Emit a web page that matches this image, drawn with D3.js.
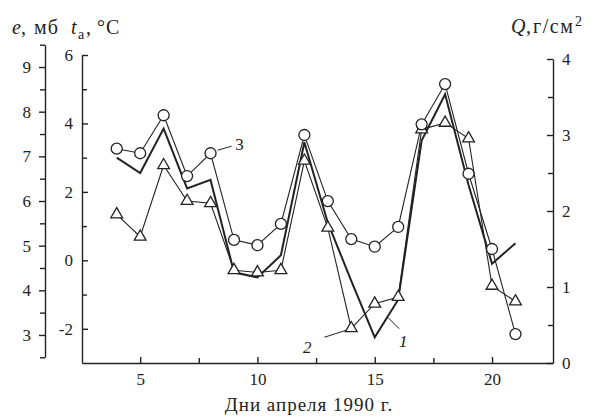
<!DOCTYPE html>
<html>
<head>
<meta charset="utf-8">
<script src="https://cdn.jsdelivr.net/npm/d3@7/dist/d3.min.js"></script>
<style>
  html, body { margin: 0; padding: 0; background: #fff; }
  svg { display: block; }
</style>
</head>
<body>
<svg id="chart" width="595" height="420"></svg>
<script>
// Days of April 1990
const days = [4, 5, 6, 7, 8, 9, 10, 11, 12, 13, 14, 15, 16, 17, 18, 19, 20, 21];
// 1 — air temperature t_a, °C
const airTemp = [3.0, 2.55, 3.85, 2.1, 2.35, -0.35, -0.5, 0.15, 3.45, 1.1, -0.6, -2.25, -1.15, 3.5, 4.85, 2.2, -0.1, 0.5];
// 2 — vapour pressure e, mb
const vapour = [5.7, 5.2, 6.8, 6.0, 5.95, 4.45, 4.4, 4.45, 6.9, 5.4, 3.15, 3.7, 3.85, 7.6, 7.75, 7.4, 4.1, 3.75];
// 3 — Q, g/cm²
const qValues = [2.82, 2.76, 3.26, 2.46, 2.76, 1.62, 1.55, 1.83, 3.0, 2.13, 1.63, 1.53, 1.79, 3.14, 3.67, 2.49, 1.5, 0.38];

const dayTicks = [5, 10, 15, 20];
const dayMinor = [7.5, 12.5, 17.5];
const tTicks = [-2, 0, 2, 4, 6];
const tMinor = [-1, 1, 3, 5];
const eTicks = [3, 4, 5, 6, 7, 8, 9];
const eMinor = [2.5, 3.5, 4.5, 5.5, 6.5, 7.5, 8.5, 9.5];
const qTicks = [0, 1, 2, 3, 4];
const qMinor = [0.5, 1.5, 2.5, 3.5];

const ink = "#222";
const serif = '"Liberation Serif"';
const svg = d3.select("#chart");

const x = d3.scaleLinear().domain([2.52, 22.6]).range([82, 553]);
const yT = d3.scaleLinear().domain([-3, 6]).range([363, 55]);
const yE = d3.scaleLinear().domain([2.5, 9.5]).range([357.3, 44.7]);
const yQ = d3.scaleLinear().domain([0, 4]).range([363, 59]);

function styleAxis(g, size) {
  g.attr("font-family", serif).attr("font-size", size);
  g.selectAll("path, line").attr("stroke", ink).attr("stroke-width", 1.4);
  g.selectAll("text").attr("fill", ink).attr("font-family", serif).attr("font-size", size);
}

// Bottom axis (days)
svg.append("g").attr("transform", "translate(0,363)")
  .call(d3.axisBottom(x).tickValues(dayTicks).tickSizeInner(-6).tickSizeOuter(0).tickPadding(10).tickFormat(d3.format("d")))
  .call(g => styleAxis(g, 17));
svg.append("g").attr("transform", "translate(0,363)")
  .call(d3.axisBottom(x).tickValues(dayMinor).tickSizeInner(-5).tickSizeOuter(0).tickFormat(""))
  .call(g => { styleAxis(g, 17); g.select(".domain").remove(); });

// Air temperature axis, ticks inward
svg.append("g").attr("transform", "translate(82,0)")
  .call(d3.axisLeft(yT).tickValues(tTicks).tickSizeInner(-6).tickSizeOuter(0).tickPadding(9).tickFormat(d => String(d)))
  .call(g => styleAxis(g, 17));
svg.append("g").attr("transform", "translate(82,0)")
  .call(d3.axisLeft(yT).tickValues(tMinor).tickSizeInner(-5).tickSizeOuter(0).tickFormat(""))
  .call(g => { styleAxis(g, 17); g.select(".domain").remove(); });

// Vapour pressure axis, outer
svg.append("g").attr("transform", "translate(45,0)")
  .call(d3.axisLeft(yE).tickValues(eTicks).tickSizeInner(6).tickSizeOuter(0).tickPadding(8).tickFormat(d3.format("d")))
  .call(g => styleAxis(g, 17));
svg.append("g").attr("transform", "translate(45,0)")
  .call(d3.axisLeft(yE).tickValues(eMinor).tickSizeInner(5).tickSizeOuter(0).tickFormat(""))
  .call(g => { styleAxis(g, 17); g.select(".domain").remove(); });

// Q axis on the right, ticks inward
svg.append("g").attr("transform", "translate(553,0)")
  .call(d3.axisRight(yQ).tickValues(qTicks).tickSizeInner(-6).tickSizeOuter(0).tickPadding(9).tickFormat(d3.format("d")))
  .call(g => styleAxis(g, 17));
svg.append("g").attr("transform", "translate(553,0)")
  .call(d3.axisRight(yQ).tickValues(qMinor).tickSizeInner(-5).tickSizeOuter(0).tickFormat(""))
  .call(g => { styleAxis(g, 17); g.select(".domain").remove(); });

// Axis titles
const eTitle = svg.append("text").attr("y", 34).attr("font-family", serif).attr("font-size", 20).attr("fill", ink);
eTitle.append("tspan").attr("x", 12).attr("font-style", "italic").text("e");
eTitle.append("tspan").attr("x", 21).text(",");
eTitle.append("tspan").attr("x", 34).attr("letter-spacing", 1).text("мб");

const tTitle = svg.append("text").attr("y", 34).attr("font-family", serif).attr("font-size", 20).attr("fill", ink);
tTitle.append("tspan").attr("x", 71).attr("font-style", "italic").text("t");
tTitle.append("tspan").attr("x", 78).attr("dy", 5).attr("font-size", 14).text("a");
tTitle.append("tspan").attr("x", 86).attr("dy", -5).text(",");
tTitle.append("tspan").attr("x", 97).attr("letter-spacing", 1).text("°C");

const qTitle = svg.append("text").attr("y", 33).attr("font-family", serif).attr("font-size", 20).attr("fill", ink);
qTitle.append("tspan").attr("x", 511).attr("font-style", "italic").text("Q");
qTitle.append("tspan").attr("x", 526).text(",");
qTitle.append("tspan").attr("x", 533).attr("letter-spacing", 1.5).text("г/см");
qTitle.append("tspan").attr("x", 575).attr("dy", -7).attr("font-size", 14).text("2");

svg.append("text").attr("x", 309).attr("y", 411).attr("text-anchor", "middle")
  .attr("font-family", serif).attr("font-size", 19).attr("letter-spacing", 1).attr("fill", ink)
  .text("Дни апреля 1990 г.");

// Series lines
const lineT = d3.line().x((d, i) => x(days[i])).y(d => yT(d));
const lineE = d3.line().x((d, i) => x(days[i])).y(d => yE(d));
const lineQ = d3.line().x((d, i) => x(days[i])).y(d => yQ(d));

svg.append("path").datum(qValues).attr("d", lineQ)
  .attr("fill", "none").attr("stroke", ink).attr("stroke-width", 1.1);
svg.append("path").datum(vapour).attr("d", lineE)
  .attr("fill", "none").attr("stroke", ink).attr("stroke-width", 1.1);
svg.append("path").datum(airTemp).attr("d", lineT)
  .attr("fill", "none").attr("stroke", ink).attr("stroke-width", 2).attr("stroke-linejoin", "miter");

// Markers
svg.append("g").selectAll("path").data(vapour).join("path")
  .attr("transform", (d, i) => `translate(${x(days[i])},${yE(d)})`)
  .attr("d", d3.symbol(d3.symbolTriangle, 60))
  .attr("fill", "#fff").attr("stroke", ink).attr("stroke-width", 1.3);

svg.append("g").selectAll("circle").data(qValues).join("circle")
  .attr("cx", (d, i) => x(days[i])).attr("cy", d => yQ(d)).attr("r", 5.5)
  .attr("fill", "#fff").attr("stroke", ink).attr("stroke-width", 1.3);

// Curve labels with leader lines
function label(px, py, x1, y1, x2, y2, tx, ty, txt, italic) {
  svg.append("line").attr("x1", px + x1).attr("y1", py + y1).attr("x2", px + x2).attr("y2", py + y2)
    .attr("stroke", ink).attr("stroke-width", 1);
  svg.append("text").attr("x", px + tx).attr("y", py + ty).attr("text-anchor", "middle")
    .attr("font-family", serif).attr("font-size", 17).attr("fill", ink)
    .attr("font-style", italic ? "italic" : "normal").text(txt);
}
label(x(8), yQ(qValues[4]), 7, -3, 21, -7, 29, -3, "3", false);
label(x(14), yE(vapour[10]), -5, 2, -27, 9, -44, 25, "2", true);
label(x(16), yT(airTemp[12]), -10, 18, 1, 29, 5, 47, "1", true);
</script>
</body>
</html>
